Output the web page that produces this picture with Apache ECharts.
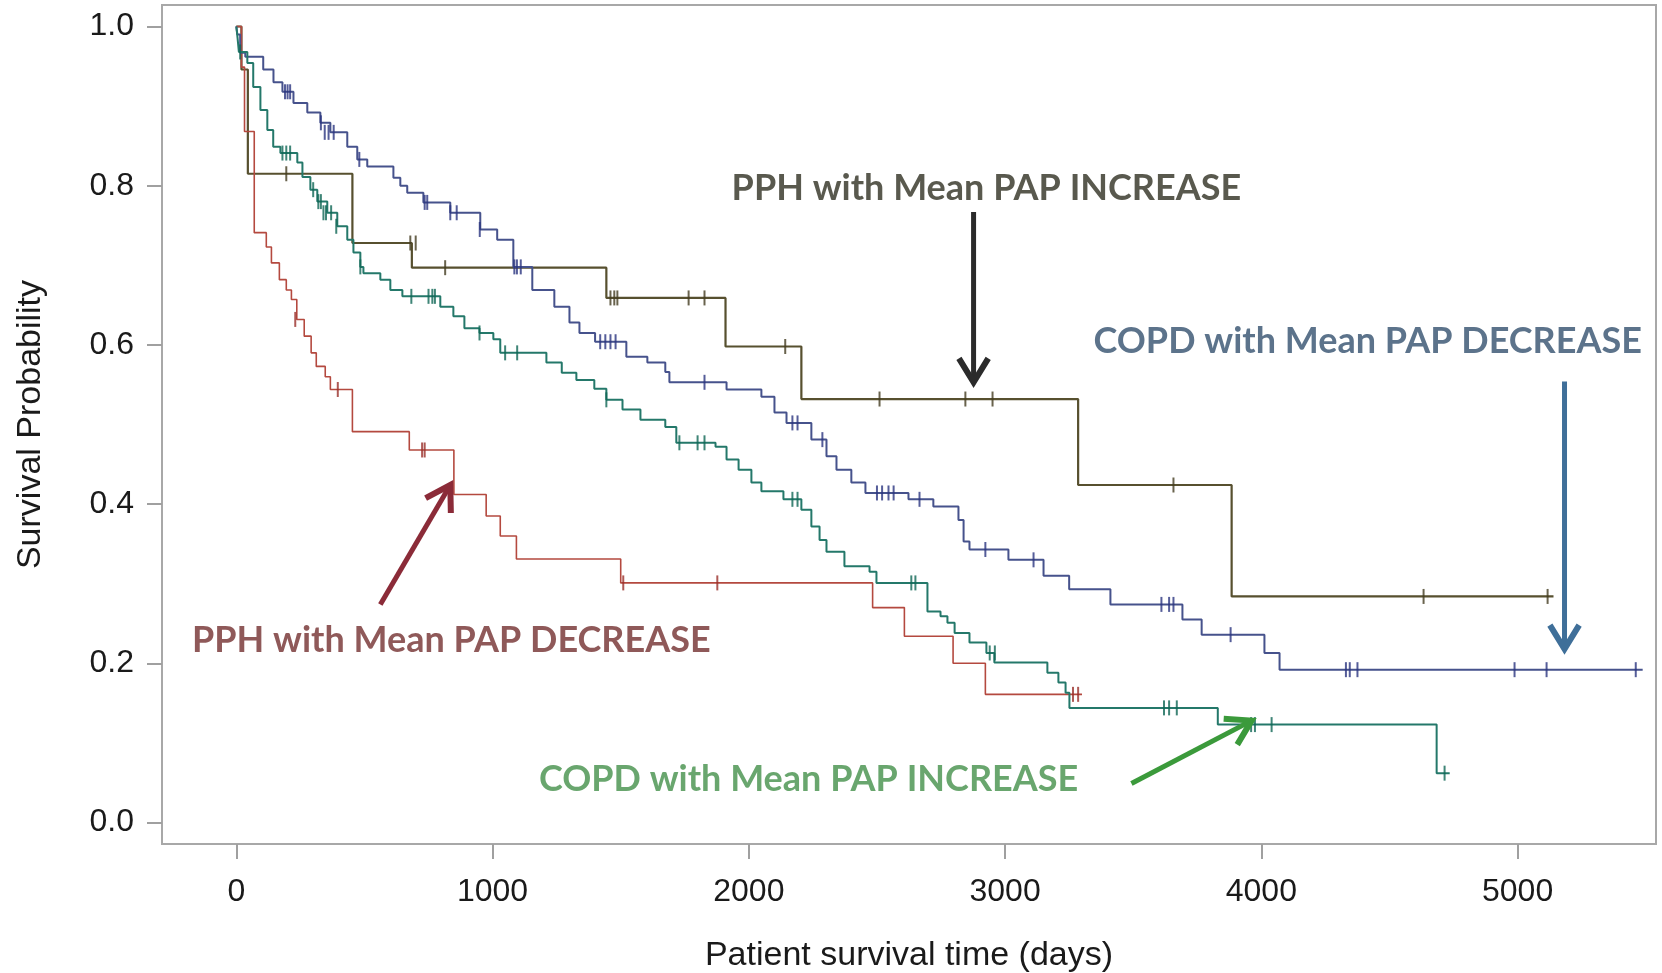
<!DOCTYPE html>
<html>
<head>
<meta charset="utf-8">
<script src="https://cdn.jsdelivr.net/npm/echarts@6/dist/echarts.min.js"></script>
<style>
html,body{margin:0;padding:0;background:#fff;}
#chart{width:1662px;height:973px;}
</style>
</head>
<body>
<div id="chart"></div>
<script>
// ---- Data ----
var xTicks = [0, 1000, 2000, 3000, 4000, 5000];
var yTicks = [0, 0.2, 0.4, 0.6, 0.8, 1.0];

// PPH with Mean PAP INCREASE (olive)
var pphIncTimes = [0, 20, 45, 453, 685, 1444, 1909, 2205, 3285, 3884, 5140];
var pphIncSurv  = [1.0, 0.946, 0.815, 0.728, 0.697, 0.659, 0.598, 0.532, 0.424, 0.284, 0.284];
var pphIncCensT = [195, 679, 700, 815, 1460, 1475, 1487, 1765, 1827, 2142, 2510, 2845, 2951, 3657, 4633, 5117];
var pphIncCensS = [0.815, 0.728, 0.728, 0.697, 0.659, 0.659, 0.659, 0.659, 0.659, 0.598, 0.532, 0.532, 0.532, 0.424, 0.284, 0.284];

// PPH with Mean PAP DECREASE (red)
var pphDecTimes = [0, 20, 32, 70, 117, 137, 168, 195, 215, 236, 265, 292, 312, 347, 367, 453, 675, 849, 975, 1030, 1093, 1500, 2483, 2607, 2797, 2923, 3300];
var pphDecSurv  = [1.0, 0.949, 0.868, 0.741, 0.723, 0.703, 0.682, 0.669, 0.657, 0.632, 0.611, 0.590, 0.573, 0.560, 0.544, 0.491, 0.468, 0.412, 0.385, 0.360, 0.331, 0.301, 0.270, 0.234, 0.200, 0.161, 0.161];
var pphDecCensT = [230, 396, 725, 735, 1510, 1877, 3265, 3285];
var pphDecCensS = [0.632, 0.544, 0.468, 0.468, 0.301, 0.301, 0.161, 0.161];

// COPD with Mean PAP DECREASE (blue)
var copdDecTimes = [0, 4, 15, 35, 105, 145, 180, 223, 277, 328, 367, 433, 472, 511, 613, 640, 667, 730, 835, 952, 1018, 1081, 1155, 1241, 1300, 1339, 1400, 1522, 1604, 1674, 1690, 1913, 2049, 2100, 2147, 2244, 2303, 2342, 2400, 2455, 2623, 2720, 2818, 2838, 2861, 3013, 3150, 3250, 3411, 3692, 3767, 4012, 4071, 5488];
var copdDecSurv  = [1.0, 0.99, 0.967, 0.962, 0.946, 0.930, 0.918, 0.904, 0.892, 0.879, 0.867, 0.849, 0.833, 0.824, 0.810, 0.800, 0.791, 0.779, 0.766, 0.745, 0.732, 0.698, 0.669, 0.648, 0.628, 0.615, 0.604, 0.585, 0.578, 0.566, 0.553, 0.544, 0.535, 0.515, 0.502, 0.481, 0.460, 0.443, 0.427, 0.414, 0.406, 0.397, 0.380, 0.353, 0.343, 0.330, 0.310, 0.293, 0.274, 0.255, 0.236, 0.213, 0.192, 0.192];
var copdDecCensT = [190, 200, 210, 330, 345, 360, 380, 480, 735, 745, 835, 860, 950, 1085, 1095, 1110, 1420, 1440, 1460, 1480, 1827, 2170, 2190, 2287, 2500, 2520, 2545, 2565, 2666, 2923, 3111, 3610, 3640, 3657, 3880, 4330, 4345, 4375, 4988, 5113, 5461];
var copdDecCensS = [0.918, 0.918, 0.918, 0.879, 0.867, 0.867, 0.867, 0.833, 0.779, 0.779, 0.766, 0.766, 0.745, 0.698, 0.698, 0.698, 0.604, 0.604, 0.604, 0.604, 0.553, 0.502, 0.502, 0.481, 0.414, 0.414, 0.414, 0.414, 0.406, 0.343, 0.330, 0.274, 0.274, 0.274, 0.236, 0.192, 0.192, 0.192, 0.192, 0.192, 0.192];

// COPD with Mean PAP INCREASE (teal)
var copdIncTimes = [0, 5, 10, 43, 66, 94, 121, 144, 172, 238, 258, 289, 316, 355, 394, 433, 457, 484, 496, 562, 601, 648, 796, 847, 890, 949, 1003, 1030, 1210, 1270, 1327, 1397, 1444, 1507, 1577, 1674, 1717, 1870, 1913, 1960, 2010, 2049, 2135, 2205, 2244, 2276, 2303, 2373, 2471, 2498, 2697, 2748, 2775, 2803, 2861, 2927, 2958, 3165, 3208, 3236, 3251, 3830, 4684, 4735];
var copdIncSurv  = [1.0, 0.985, 0.968, 0.954, 0.924, 0.895, 0.870, 0.849, 0.841, 0.829, 0.811, 0.795, 0.780, 0.766, 0.749, 0.732, 0.716, 0.698, 0.690, 0.682, 0.669, 0.661, 0.648, 0.636, 0.621, 0.615, 0.607, 0.590, 0.578, 0.565, 0.556, 0.545, 0.531, 0.519, 0.506, 0.497, 0.477, 0.472, 0.456, 0.443, 0.427, 0.416, 0.406, 0.393, 0.372, 0.355, 0.340, 0.322, 0.315, 0.301, 0.265, 0.259, 0.251, 0.238, 0.226, 0.213, 0.201, 0.188, 0.176, 0.163, 0.144, 0.123, 0.062, 0.062];
var copdIncCensT = [15, 180, 195, 210, 300, 320, 330, 340, 350, 370, 390, 484, 683, 750, 765, 775, 949, 1049, 1096, 1444, 1729, 1800, 1827, 2170, 2190, 2634, 2650, 2940, 2960, 3620, 3640, 3670, 3960, 3975, 4040, 4715];
var copdIncCensS = [0.968, 0.841, 0.841, 0.841, 0.795, 0.780, 0.780, 0.766, 0.766, 0.766, 0.749, 0.698, 0.661, 0.661, 0.661, 0.661, 0.615, 0.590, 0.590, 0.531, 0.477, 0.477, 0.477, 0.406, 0.406, 0.301, 0.301, 0.213, 0.213, 0.144, 0.144, 0.144, 0.123, 0.123, 0.123, 0.062];

// Annotation texts (data coordinates of their centres)
var noteTexts = ['PPH with Mean PAP INCREASE', 'COPD with Mean PAP DECREASE', 'PPH with Mean PAP DECREASE', 'COPD with Mean PAP INCREASE'];
var noteX = [2927, 4415, 839, 2233];
var noteY = [0.796, 0.605, 0.229, 0.054];
// Arrows (start -> tip, data coordinates)
var arrowFromX = [2877, 5183, 562, 3493];
var arrowFromY = [0.767, 0.554, 0.274, 0.049];
var arrowToX   = [2877, 5183, 835, 3962];
var arrowToY   = [0.553, 0.218, 0.424, 0.128];

// ---- Styles ----
var lineColors = ['#57502f', '#b4493f', '#46528c', '#24786a'];
var censColors = ['#433c20', '#9a2f2a', '#2a3580', '#0f6655'];
var noteColors = ['#2f2f22', '#33506e', '#733030', '#44904a'];
var arrowColors = ['#2b2b2b', '#3f6f99', '#8b2b38', '#3b9a3b'];

function zip(a, b) { return a.map(function (v, i) { return [v, b[i]]; }); }

var curves = [
  { name: 'PPH INC', t: pphIncTimes, s: pphIncSurv, ct: pphIncCensT, cs: pphIncCensS, w: 2.2 },
  { name: 'PPH DEC', t: pphDecTimes, s: pphDecSurv, ct: pphDecCensT, cs: pphDecCensS, w: 1.6 },
  { name: 'COPD DEC', t: copdDecTimes, s: copdDecSurv, ct: copdDecCensT, cs: copdDecCensS, w: 2.0 },
  { name: 'COPD INC', t: copdIncTimes, s: copdIncSurv, ct: copdIncCensT, cs: copdIncCensS, w: 2.0 }
];

var series = [];
curves.forEach(function (c, i) {
  series.push({
    type: 'line', name: c.name, step: 'end', data: zip(c.t, c.s),
    showSymbol: false, symbol: 'none', animation: false,
    lineStyle: { color: lineColors[i], width: c.w }, z: 2 + i
  });
  series.push({
    type: 'scatter', name: c.name + ' censored', data: zip(c.ct, c.cs),
    symbol: 'rect', symbolSize: [2, 15], animation: false,
    itemStyle: { color: censColors[i] }, z: 6 + i
  });
});

// annotation labels
series.push({
  type: 'scatter', name: 'notes', symbolSize: 0, animation: false, silent: true, z: 20,
  data: noteTexts.map(function (t, i) {
    return {
      value: [noteX[i], noteY[i]], name: t,
      label: {
        show: true, position: 'inside', formatter: t,
        color: noteColors[i], fontSize: 36, fontWeight: 'bold',
        fontFamily: 'Lato, "Open Sans", sans-serif'
      }
    };
  })
});

// arrows (line + chevron head) drawn through the axes' scales
series.push({
  type: 'custom', name: 'arrows', animation: false, silent: true, z: 21,
  data: arrowFromX.map(function (x, i) { return [x, arrowFromY[i], arrowToX[i], arrowToY[i], i]; }),
  encode: { x: [0, 2], y: [1, 3] },
  renderItem: function (params, api) {
    var p1 = api.coord([api.value(0), api.value(1)]);
    var p2 = api.coord([api.value(2), api.value(3)]);
    var col = arrowColors[api.value(4)];
    var ang = Math.atan2(p2[1] - p1[1], p2[0] - p1[0]);
    var L = 28, spread = 0.55;
    var a1 = [p2[0] - L * Math.cos(ang - spread), p2[1] - L * Math.sin(ang - spread)];
    var a2 = [p2[0] - L * Math.cos(ang + spread), p2[1] - L * Math.sin(ang + spread)];
    return {
      type: 'group',
      children: [
        { type: 'line', shape: { x1: p1[0], y1: p1[1], x2: p2[0], y2: p2[1] }, style: { stroke: col, lineWidth: 5 } },
        { type: 'polyline', shape: { points: [a1, p2, a2] }, style: { stroke: col, lineWidth: 6, fill: null, lineJoin: 'miter' } }
      ]
    };
  }
});

var labelFont = '"Liberation Sans", Arial, sans-serif';
var chart = echarts.init(document.getElementById('chart'), null, { renderer: 'canvas' });
chart.setOption({
  backgroundColor: '#ffffff',
  animation: false,
  grid: { left: 162, right: 6, top: 5, bottom: 129, outerBoundsMode: 'none', containLabel: false,
    show: true, borderColor: '#a8a8a8', borderWidth: 2, backgroundColor: 'transparent' },
  xAxis: {
    type: 'value', min: -290, max: 5540,
    name: 'Patient survival time (days)', nameLocation: 'middle', nameGap: 95,
    nameTextStyle: { fontSize: 34, color: '#1a1a1a', fontFamily: labelFont },
    axisLine: { show: false, onZero: false },
    splitLine: { show: false },
    axisTick: { show: true, inside: false, customValues: xTicks, length: 15, lineStyle: { color: '#a0a0a0', width: 2 } },
    axisLabel: { show: true, customValues: xTicks, margin: 32, fontSize: 32, color: '#1a1a1a', fontFamily: labelFont,
      formatter: function (v) { return String(Math.round(v)); } }
  },
  yAxis: {
    type: 'value', min: -0.027, max: 1.027,
    name: 'Survival Probability', nameLocation: 'middle', nameGap: 114, nameRotate: 90,
    nameTextStyle: { fontSize: 34, color: '#1a1a1a', fontFamily: labelFont },
    axisLine: { show: false, onZero: false },
    splitLine: { show: false },
    axisTick: { show: true, inside: false, customValues: yTicks, length: 15, lineStyle: { color: '#a0a0a0', width: 2 } },
    axisLabel: { show: true, customValues: yTicks, margin: 28, fontSize: 32, color: '#1a1a1a', fontFamily: labelFont,
      formatter: function (v) { return v.toFixed(1); } }
  },
  series: series
});
</script>
</body>
</html>
